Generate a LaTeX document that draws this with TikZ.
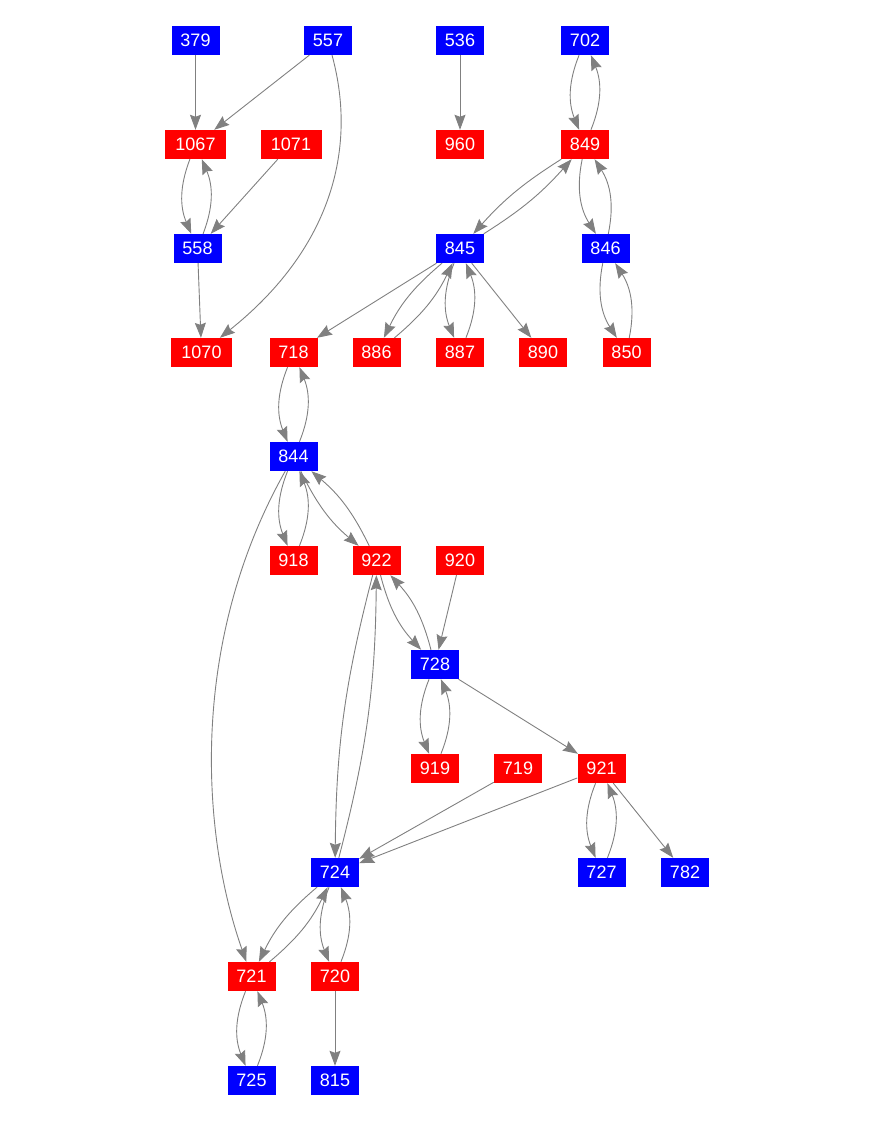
\documentclass[tikz,border=0pt]{standalone}
\usepackage{fontspec}
\setmainfont{Liberation Sans}
\usetikzlibrary{arrows.meta}

\definecolor{nblue}{RGB}{0,0,255}
\definecolor{nred}{RGB}{255,0,0}
\definecolor{egray}{RGB}{128,128,128}

\begin{document}
\begin{tikzpicture}[x=1pt,y=-1pt,
    vtx/.style={rectangle,minimum width=48pt,minimum height=29pt,inner sep=0pt,text=white,font=\fontsize{18}{18}\selectfont},
    bv/.style={vtx,fill=nblue},
    rv/.style={vtx,fill=nred},
    wide/.style={minimum width=61pt},
    arc/.style={draw=egray,line width=0.9pt,-{Stealth[length=15pt,width=11pt,inset=2pt]}},
    recip/.style={bend right=#1},
    recip/.default=22]
    \useasboundingbox (0,0) rectangle (876,1121);
    % row 1
    \node[bv] (n379) at (195.5,40.5) {379};
    \node[bv] (n557) at (328,40.5) {557};
    \node[bv] (n536) at (460,40.5) {536};
    \node[bv] (n702) at (585,40.5) {702};
    % row 2
    \node[rv,wide] (n1067) at (195.5,144.5) {1067};
    \node[rv,wide] (n1071) at (291,144.5) {1071};
    \node[rv] (n960) at (460,144.5) {960};
    \node[rv] (n849) at (585,144.5) {849};
    % row 3
    \node[bv] (n558) at (197.5,248.5) {558};
    \node[bv] (n845) at (460,248.5) {845};
    \node[bv] (n846) at (605.5,248.5) {846};
    % row 4
    \node[rv,wide] (n1070) at (201.5,352.5) {1070};
    \node[rv] (n718) at (293.5,352.5) {718};
    \node[rv] (n886) at (376.5,352.5) {886};
    \node[rv] (n887) at (460,352.5) {887};
    \node[rv] (n890) at (543,352.5) {890};
    \node[rv] (n850) at (626.5,352.5) {850};
    % row 5
    \node[bv] (n844) at (293.5,456.5) {844};
    % row 6
    \node[rv] (n918) at (293.5,560.5) {918};
    \node[rv] (n922) at (376.5,560.5) {922};
    \node[rv] (n920) at (460,560.5) {920};
    % row 7
    \node[bv] (n728) at (435,664.5) {728};
    % row 8
    \node[rv] (n919) at (435,768.5) {919};
    \node[rv] (n719) at (518,768.5) {719};
    \node[rv] (n921) at (601.5,768.5) {921};
    % row 9
    \node[bv] (n724) at (335,872.5) {724};
    \node[bv] (n727) at (601.5,872.5) {727};
    \node[bv] (n782) at (685,872.5) {782};
    % row 10
    \node[rv] (n721) at (251.5,976.5) {721};
    \node[rv] (n720) at (335,976.5) {720};
    % row 11
    \node[bv] (n725) at (251.5,1080.5) {725};
    \node[bv] (n815) at (335,1080.5) {815};

    % one-way edges
    \draw[arc] (n379) -- (n1067);
    \draw[arc] (n557) -- (n1067);
    \draw[arc] (n557) .. controls (358,150) and (330,250) .. (n1070);
    \draw[arc] (n536) -- (n960);
    \draw[arc] (n1071) -- (n558);
    \draw[arc] (n558) -- (n1070);
    \draw[arc] (n845) -- (n718);
    \draw[arc] (n845) -- (n890);
    \draw[arc] (n844) .. controls (190,640) and (200,830) .. (n721);
    \draw[arc] (n920) -- (n728);
    \draw[arc] (n728) -- (n921);
    \draw[arc] (n719) -- (n724);
    \draw[arc] (n921) -- (n724);
    \draw[arc] (n921) -- (n782);
    \draw[arc] (n720) -- (n815);

    % two-way edges
    \draw[arc] (n702) to[recip] (n849);
    \draw[arc] (n849) to[recip] (n702);
    \draw[arc] (n1067) to[recip] (n558);
    \draw[arc] (n558) to[recip] (n1067);
    \draw[arc] (n849) to[recip=8] (n845);
    \draw[arc] (n845) to[recip=8] (n849);
    \draw[arc] (n849) to[recip] (n846);
    \draw[arc] (n846) to[recip] (n849);
    \draw[arc] (n846) to[recip] (n850);
    \draw[arc] (n850) to[recip] (n846);
    \draw[arc] (n845) to[recip=12] (n886);
    \draw[arc] (n886) to[recip=12] (n845);
    \draw[arc] (n845) to[recip] (n887);
    \draw[arc] (n887) to[recip] (n845);
    \draw[arc] (n718) to[recip] (n844);
    \draw[arc] (n844) to[recip] (n718);
    \draw[arc] (n844) to[recip] (n918);
    \draw[arc] (n918) to[recip] (n844);
    \draw[arc] (n844) to[recip=12] (n922);
    \draw[arc] (n922) to[recip=12] (n844);
    \draw[arc] (n922) to[recip=14] (n728);
    \draw[arc] (n728) to[recip=14] (n922);
    \draw[arc] (n922) to[recip=7] (n724);
    \draw[arc] (n724) to[recip=7] (n922);
    \draw[arc] (n728) to[recip] (n919);
    \draw[arc] (n919) to[recip] (n728);
    \draw[arc] (n921) to[recip] (n727);
    \draw[arc] (n727) to[recip] (n921);
    \draw[arc] (n724) to[recip=12] (n721);
    \draw[arc] (n721) to[recip=12] (n724);
    \draw[arc] (n724) to[recip] (n720);
    \draw[arc] (n720) to[recip] (n724);
    \draw[arc] (n721) to[recip] (n725);
    \draw[arc] (n725) to[recip] (n721);
\end{tikzpicture}
\end{document}
